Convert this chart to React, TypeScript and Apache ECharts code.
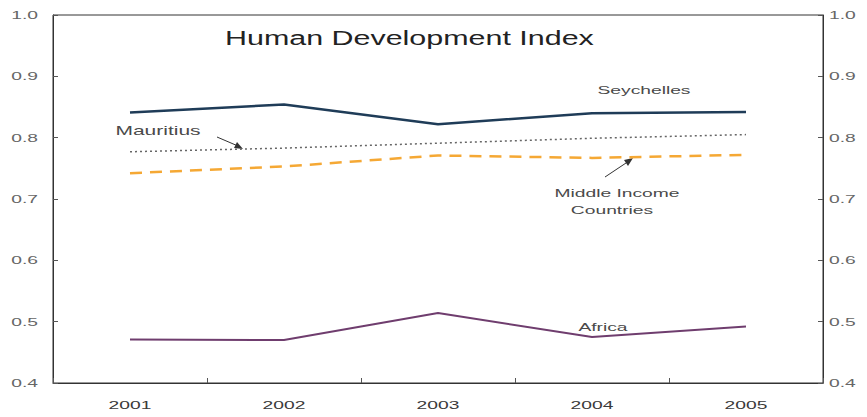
import React, { useEffect, useRef } from "react";
import * as echarts from "echarts";

const years = ["2001", "2002", "2003", "2004", "2005"];
const seychelles = [0.841, 0.854, 0.822, 0.840, 0.842];
const mauritius = [0.777, 0.783, 0.791, 0.799, 0.805];
const middleIncome = [0.742, 0.753, 0.771, 0.767, 0.772];
const africa = [0.471, 0.470, 0.514, 0.475, 0.492];
const yTickLabels = ["0.4", "0.5", "0.6", "0.7", "0.8", "0.9", "1.0"];
const yRange = { min: 0.4, max: 1.0, interval: 0.1 };

export default function App() {
  const ref = useRef<HTMLDivElement>(null);
  useEffect(() => {
    const chart = echarts.init(ref.current!, null, { renderer: "svg" });
    const font = "'Liberation Sans', Arial, sans-serif";
    const SX = 1.75;
    const yAxisBase = {
      type: "value" as const,
      min: yRange.min,
      max: yRange.max,
      interval: yRange.interval,
      splitLine: { show: false },
      axisLine: { show: true, lineStyle: { color: "#333", width: 1 } },
      axisTick: { show: true, inside: true, length: 5, lineStyle: { color: "#555" } },
      axisLabel: { show: false },
    };
    chart.setOption({
      animation: false,
      backgroundColor: "#fff",
      grid: {
        left: 53,
        right: 44,
        top: 15,
        bottom: 34,
        show: true,
        borderColor: "#333",
        borderWidth: 1,
      },
      xAxis: {
        type: "category",
        data: years,
        boundaryGap: true,
        axisLine: { show: true, lineStyle: { color: "#333" } },
        axisTick: { show: true, inside: true, length: 5, lineStyle: { color: "#555" } },
        axisLabel: { show: false },
        splitLine: { show: false },
      },
      yAxis: [
        { ...yAxisBase, position: "left" },
        { ...yAxisBase, position: "right" },
      ],
      series: [
        {
          name: "Seychelles",
          type: "line",
          data: seychelles,
          symbol: "none",
          lineStyle: { color: "#1f3c58", width: 2.5 },
        },
        {
          name: "Mauritius",
          type: "line",
          data: mauritius,
          symbol: "none",
          lineStyle: { color: "#666", width: 1.5, type: [2, 3] },
        },
        {
          name: "Middle Income Countries",
          type: "line",
          data: middleIncome,
          symbol: "none",
          lineStyle: { color: "#f5a834", width: 2.5, type: [12, 8] },
        },
        {
          name: "Africa",
          type: "line",
          data: africa,
          symbol: "none",
          lineStyle: { color: "#6f3d6e", width: 2 },
        },
      ],
    });

    const xLabels = years.map((y, i) => ({
      type: "text",
      x: chart.convertToPixel({ xAxisIndex: 0 }, i) as number,
      y: 405,
      scaleX: SX,
      style: { text: y, fontSize: 11, fontFamily: font, fill: "#3a3a3a", align: "center", verticalAlign: "middle" },
    }));
    const yLabelsLeft = yTickLabels.map((t) => ({
      type: "text",
      x: 38,
      y: chart.convertToPixel({ yAxisIndex: 0 }, parseFloat(t)) as number,
      scaleX: SX,
      style: { text: t, fontSize: 11, fontFamily: font, fill: "#666", align: "right", verticalAlign: "middle" },
    }));
    const yLabelsRight = yTickLabels.map((t) => ({
      type: "text",
      x: 829,
      y: chart.convertToPixel({ yAxisIndex: 1 }, parseFloat(t)) as number,
      scaleX: SX,
      style: { text: t, fontSize: 11, fontFamily: font, fill: "#666", align: "left", verticalAlign: "middle" },
    }));

    const note = (text: string, x: number, y: number, size = 11) => ({
      type: "text",
      x,
      y,
      scaleX: SX,
      style: { text, fontSize: size, fontFamily: font, fill: "#4a4a4a", align: "center", verticalAlign: "middle" },
    });

    chart.setOption({
      graphic: [
        ...xLabels,
        ...yLabelsLeft,
        ...yLabelsRight,
        {
          type: "text",
          x: 225,
          y: 38,
          scaleX: 1.45,
          style: {
            text: "Human Development Index",
            fontSize: 21,
            fontFamily: font,
            fill: "#222",
            align: "left",
            verticalAlign: "middle",
          },
        },
        note("Seychelles", 644, 90),
        note("Mauritius", 158, 131, 12),
        note("Middle Income", 617, 193),
        note("Countries", 612, 210),
        note("Africa", 603, 327),
        {
          type: "line",
          shape: { x1: 217, y1: 137, x2: 238, y2: 146 },
          style: { stroke: "#333", lineWidth: 1 },
        },
        {
          type: "polygon",
          shape: { points: [[243, 149], [234, 148], [237, 142]] },
          style: { fill: "#333" },
        },
        {
          type: "line",
          shape: { x1: 605, y1: 177, x2: 629, y2: 161 },
          style: { stroke: "#333", lineWidth: 1 },
        },
        {
          type: "polygon",
          shape: { points: [[633, 158], [628, 166], [624, 160]] },
          style: { fill: "#333" },
        },
      ],
    });
    return () => chart.dispose();
  }, []);
  return <div ref={ref} style={{ width: 867, height: 417, position: "absolute", left: 0, top: 0 }} />;
}
